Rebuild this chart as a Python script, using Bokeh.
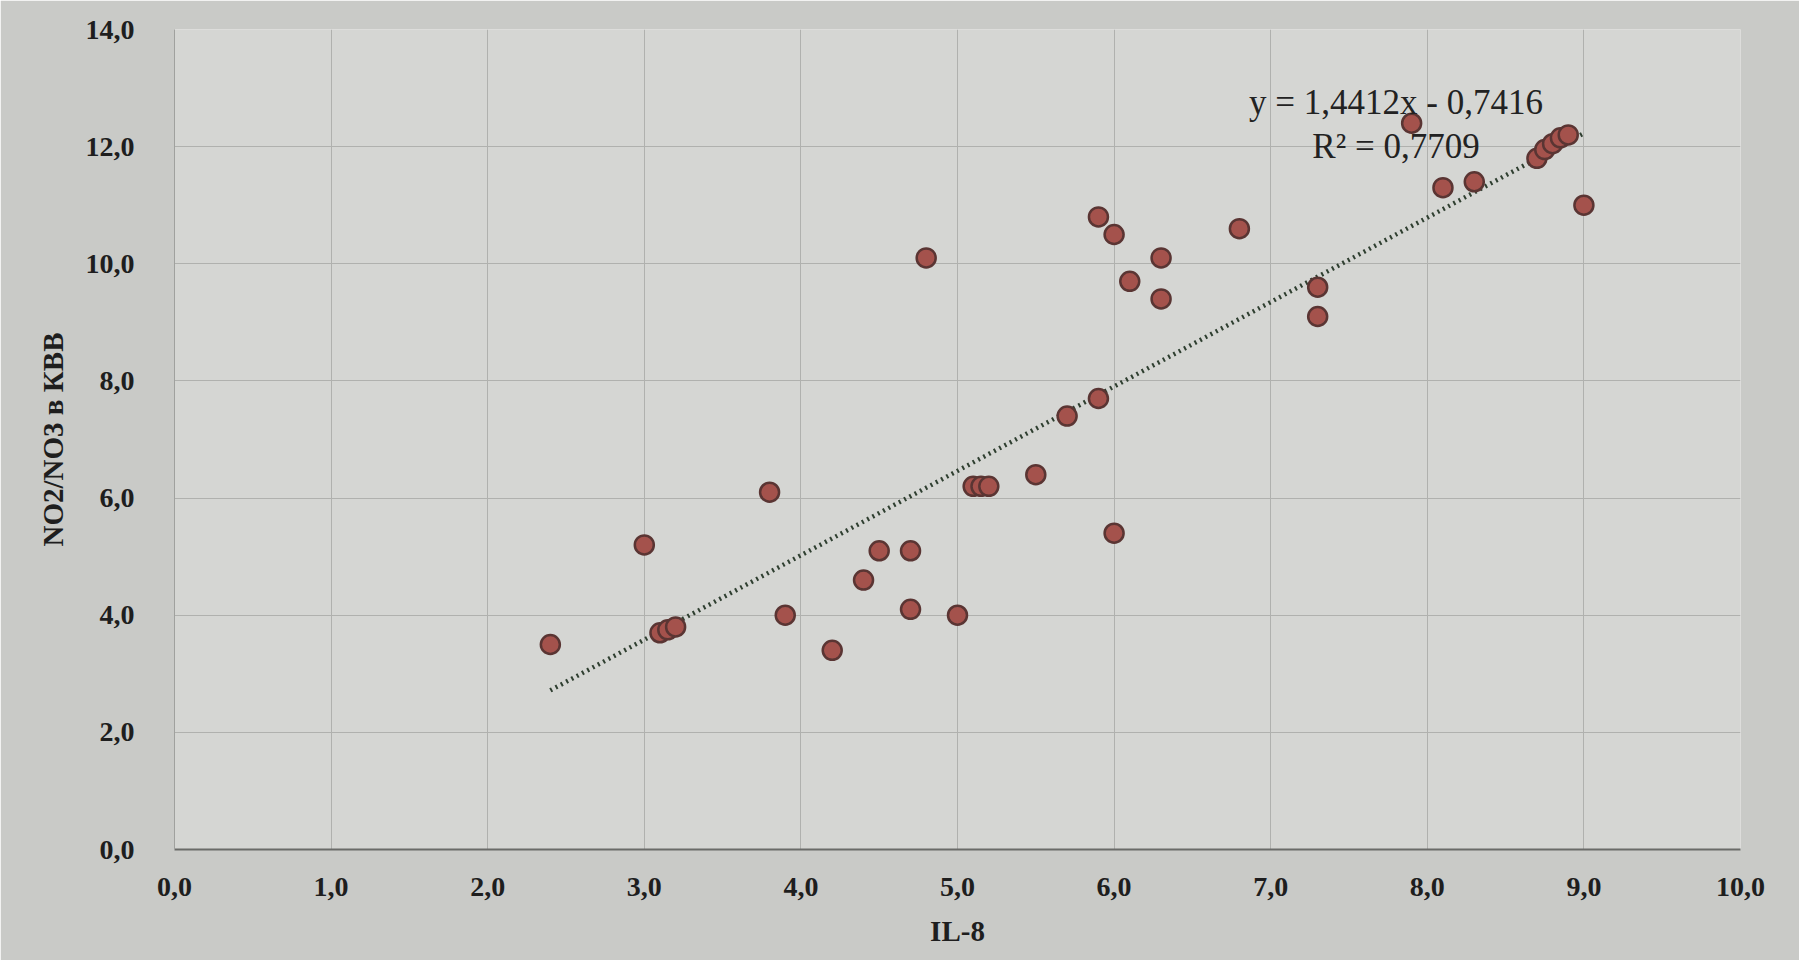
from bokeh.plotting import figure
from bokeh.models import Range1d, Label, CustomJSTickFormatter, FixedTicker
from bokeh.embed import file_html
from bokeh.resources import INLINE

# --- data ---
il8 = [2.4, 3.0, 3.1, 3.15, 3.2, 3.8, 3.9, 4.2, 4.4, 4.5, 4.7, 4.7, 4.8, 5.0,
       5.1, 5.15, 5.2, 5.5, 5.7, 5.9, 5.9, 6.0, 6.0, 6.1, 6.3, 6.3, 6.8,
       7.3, 7.3, 7.9, 8.1, 8.3, 8.7, 8.75, 8.8, 8.85, 8.9, 9.0]
no_ratio = [3.5, 5.2, 3.7, 3.75, 3.8, 6.1, 4.0, 3.4, 4.6, 5.1, 5.1, 4.1, 10.1, 4.0,
            6.2, 6.2, 6.2, 6.4, 7.4, 7.7, 10.8, 10.5, 5.4, 9.7, 10.1, 9.4, 10.6,
            9.6, 9.1, 12.4, 11.3, 11.4, 11.8, 11.95, 12.05, 12.15, 12.2, 11.0]
slope = 1.4412
intercept = -0.7416
r2_text = "R² = 0,7709"
eq_text = "y = 1,4412x - 0,7416"
x_ticks = [0, 1, 2, 3, 4, 5, 6, 7, 8, 9, 10]
y_ticks = [0, 2, 4, 6, 8, 10, 12, 14]

bg = "#c9cac7"
p = figure(width=1799, height=960, output_backend="svg", toolbar_location=None,
           x_range=Range1d(0, 10), y_range=Range1d(0, 14),
           min_border_left=174, min_border_right=59, min_border_top=29, min_border_bottom=111,
           background_fill_color="#d5d6d3", border_fill_color=bg)
p.outline_line_color = None

fmt = CustomJSTickFormatter(code="return tick.toFixed(1).replace('.', ',');")
for ax in (p.xaxis[0], p.yaxis[0]):
    ax.formatter = fmt
    ax.major_tick_line_color = None
    ax.minor_tick_line_color = None
    ax.major_label_text_font = "Liberation Serif"
    ax.major_label_text_font_style = "bold"
    ax.major_label_text_font_size = "28px"
    ax.major_label_text_color = "#1e1e1e"
    ax.axis_label_text_font = "Liberation Serif"
    ax.axis_label_text_font_style = "bold"
    ax.axis_label_text_font_size = "29px"
    ax.axis_label_text_color = "#1e1e1e"
p.xaxis[0].ticker = FixedTicker(ticks=x_ticks)
p.yaxis[0].ticker = FixedTicker(ticks=y_ticks)
p.xaxis[0].axis_line_color = "#6a6b68"
p.xaxis[0].axis_line_width = 2
p.yaxis[0].axis_line_color = "#a0a19e"
p.xaxis[0].major_label_standoff = 22
p.yaxis[0].major_label_standoff = 34
p.xaxis[0].axis_label = "IL-8"
p.yaxis[0].axis_label = "NO2/NO3 в КВВ"
p.xaxis[0].axis_label_standoff = 16
p.yaxis[0].axis_label_standoff = 14

p.xgrid.grid_line_color = "#b0b1ae"
p.ygrid.grid_line_color = "#b0b1ae"
p.xgrid.ticker = FixedTicker(ticks=x_ticks)
p.ygrid.ticker = FixedTicker(ticks=y_ticks)

# trend line (linear fit shown in the picture)
x0, x1 = min(il8), max(il8)
p.line([x0, x1], [slope * x0 + intercept, slope * x1 + intercept],
       line_color="#2f3f30", line_width=4.5, line_dash="2 4")

p.scatter(il8, no_ratio, size=19, fill_color="#a4524c", line_color="#5a3533", line_width=2.5)

p.add_layout(Label(x=7.8, y=12.75, text=eq_text, text_align="center", text_baseline="middle",
                   text_font="Liberation Serif", text_font_size="35px", text_color="#222222"))
p.add_layout(Label(x=7.8, y=12.0, text=r2_text, text_align="center", text_baseline="middle",
                   text_font="Liberation Serif", text_font_size="35px", text_color="#222222"))

open("out.html", "w").write(file_html(p, INLINE))
